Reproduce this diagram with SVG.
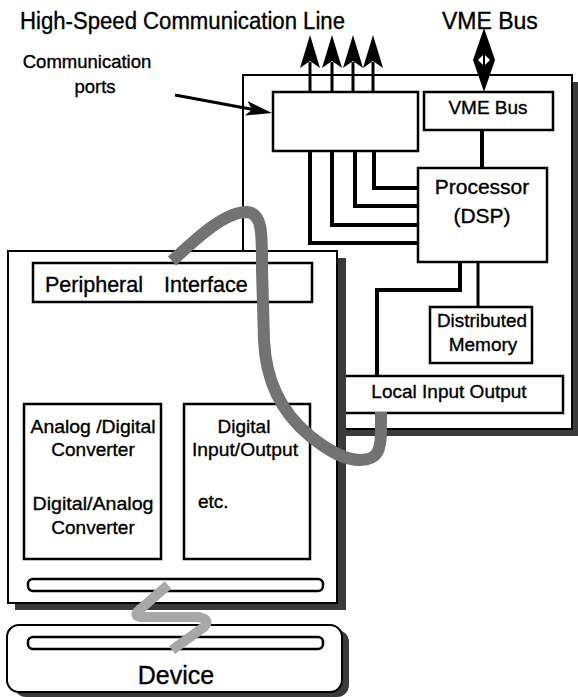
<svg xmlns="http://www.w3.org/2000/svg" width="578" height="697" viewBox="0 0 578 697">
<style>
text{font-family:"Liberation Sans",Arial,sans-serif;fill:#000;stroke:#000;stroke-width:0.35}
.box{fill:#fff;stroke:#000;stroke-width:2.5}
.board{fill:#fff;stroke:#000;stroke-width:2}
.shadow{fill:#3a3a3a}
.wire{fill:none;stroke:#000;stroke-width:4}
.wire3{fill:none;stroke:#000;stroke-width:3}
.lbl{font-size:19px;text-anchor:middle}
</style>
<rect width="578" height="697" fill="#fff"/>

<g id="title">
<text x="20" y="29" font-size="23" textLength="325" lengthAdjust="spacingAndGlyphs">High-Speed Communication Line</text>
<text x="442" y="29" font-size="23">VME Bus</text>
</g>

<g id="comm-label">
<text x="87" y="68" font-size="18.5" text-anchor="middle">Communication</text>
<text x="95" y="93" font-size="18.5" text-anchor="middle">ports</text>
</g>

<g id="processor-board">
<rect class="shadow" x="249" y="82" width="329" height="354"/>
<rect class="board" x="243" y="75" width="329" height="354"/>
</g>

<g id="comm-ports">
<rect class="box" x="273" y="92" width="145" height="59"/>
</g>
<g id="vme-bus">
<rect class="box" x="424" y="92" width="129" height="38"/>
<text x="488" y="114" font-size="19" text-anchor="middle">VME Bus</text>
</g>
<g id="processor">
<rect class="box" x="418" y="168" width="129" height="94"/>
<text x="482" y="194" font-size="21" text-anchor="middle">Processor</text>
<text x="482" y="223" font-size="21" text-anchor="middle">(DSP)</text>
</g>
<g id="memory">
<rect class="box" x="430" y="307" width="102" height="56"/>
<text x="482" y="327" class="lbl" textLength="90" lengthAdjust="spacingAndGlyphs">Distributed</text>
<text x="483" y="351" class="lbl">Memory</text>
</g>
<g id="local-io">
<rect class="box" x="338" y="376" width="225" height="37"/>
<text x="449" y="398" class="lbl">Local Input Output</text>
</g>

<g id="connectors">
<path class="wire" d="M374,151V188H418M355,151V206H418M332,151V225H418M310,151V243H418"/>
<path class="wire" d="M482,130V168"/>
<path class="wire3" d="M478,262V307"/>
<path class="wire" d="M460,262V290H377V376"/>
<path class="wire3" d="M310,62V92M332,62V92M353,62V92M373,62V92"/>
<polygon points="310,35 320,68 310,61 300,68"/>
<polygon points="332,35 342,68 332,61 322,68"/>
<polygon points="353,35 363,68 353,61 343,68"/>
<polygon points="373,35 383,68 373,61 363,68"/>
<polygon points="484,28 495,60 484,92 473,60"/>
<polygon points="484,54 490,60 484,66 478,60" fill="#fff"/>
<line x1="484" y1="53" x2="484" y2="67" stroke="#000" stroke-width="2"/>
<line x1="175" y1="95" x2="253" y2="109.5" stroke="#000" stroke-width="3"/>
<polygon points="272,113 245,115.5 252,109.4 247.5,101"/>
</g>

<g id="peripheral-board">
<rect class="shadow" x="15" y="258" width="331" height="352"/>
<rect class="board" x="8" y="251" width="329" height="352"/>
</g>
<g id="peripheral-interface">
<rect class="box" x="33" y="263" width="279" height="39"/>
<text x="45" y="292" font-size="21.5">Peripheral</text>
<text x="164" y="292" font-size="21.5">Interface</text>
</g>
<g id="adc">
<rect class="box" x="24" y="404" width="137" height="155"/>
<text x="93" y="433" class="lbl" textLength="125" lengthAdjust="spacingAndGlyphs">Analog /Digital</text>
<text x="93" y="456" class="lbl">Converter</text>
<text x="93" y="510" class="lbl" textLength="121" lengthAdjust="spacingAndGlyphs">Digital/Analog</text>
<text x="93" y="534" class="lbl">Converter</text>
</g>
<g id="dio">
<rect class="box" x="184" y="404" width="126" height="155"/>
<text x="244" y="433" class="lbl">Digital</text>
<text x="245" y="456" class="lbl" textLength="106" lengthAdjust="spacingAndGlyphs">Input/Output</text>
<text x="198" y="508" font-size="19">etc.</text>
</g>
<g id="board-connector">
<rect class="box" x="28" y="579" width="295" height="12" rx="5"/>
</g>

<g id="device">
<rect class="shadow" x="14" y="630" width="335" height="67" rx="12"/>
<rect class="board" x="7" y="625" width="335" height="67" rx="12" stroke-width="2.5"/>
<rect class="box" x="28" y="637" width="295" height="12" rx="5"/>
<text x="176" y="684" font-size="25" text-anchor="middle">Device</text>
</g>

<g id="cables">
<path d="M172,261C199,236 225,212 247,212C263,213 262,235 262,270L264,340C266,390 288,418 310,436C330,452 345,460 360,460C378,460 381,450 381,430L381,412" fill="none" stroke="#737373" stroke-width="12"/>
<path d="M168,585L137,612Q134,618 146,617L198,617Q211,619 204,627L172,650" fill="none" stroke="#a8a8a8" stroke-width="10"/>
</g>
</svg>
